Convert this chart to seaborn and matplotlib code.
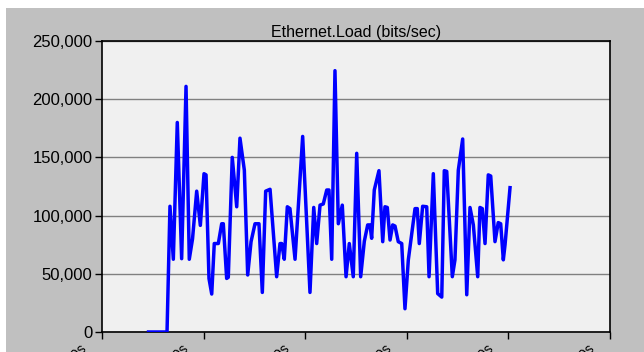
import numpy as np
import pandas as pd
import matplotlib
matplotlib.use("Agg")
import matplotlib.pyplot as plt
import matplotlib.ticker as mticker
import matplotlib.transforms as mtransforms
from matplotlib.patches import Rectangle
import seaborn as sns

# 采样时间（分钟）与负载（bits/sec）
time_min = [0.458, 0.640, 0.669, 0.702, 0.741, 0.784, 0.827, 0.859, 0.891, 0.932,
            0.968, 1.004, 1.024, 1.053, 1.080, 1.105, 1.145, 1.178, 1.194, 1.227,
            1.243, 1.282, 1.326, 1.358, 1.401, 1.434, 1.467, 1.506, 1.545, 1.578,
            1.611, 1.654, 1.719, 1.752, 1.769, 1.794, 1.824, 1.850, 1.900, 1.975,
            2.047, 2.084, 2.113, 2.146, 2.178, 2.212, 2.234, 2.261, 2.293, 2.326,
            2.365, 2.402, 2.434, 2.473, 2.507, 2.546, 2.582, 2.615, 2.638, 2.654,
            2.680, 2.726, 2.763, 2.785, 2.808, 2.835, 2.861, 2.884, 2.916, 2.950,
            2.982, 3.015, 3.081, 3.103, 3.123, 3.156, 3.196, 3.219, 3.261, 3.304,
            3.344, 3.369, 3.393, 3.448, 3.474, 3.507, 3.550, 3.590, 3.622, 3.655,
            3.698, 3.720, 3.743, 3.770, 3.802, 3.826, 3.868, 3.900, 3.924, 3.950,
            3.967, 4.016]
load_bps = [0, 0, 108000, 62500, 180000, 63000, 211000, 62500, 80000, 121000,
            91600, 136000, 135000, 46000, 32600, 76000, 76000, 93000, 93000, 46000,
            47000, 150000, 107600, 166500, 139000, 49000, 77600, 93000, 93000, 34000,
            121000, 122600, 47500, 76000, 76000, 62500, 107600, 106000, 62500, 168000,
            34000, 107000, 76000, 109000, 110000, 122000, 122000, 62500, 224500, 93000,
            109000, 47500, 76000, 47500, 153500, 47500, 78000, 92000, 92000, 80500,
            122000, 138600, 77600, 107600, 107000, 79000, 92000, 91000, 77600, 76000,
            20000, 62000, 106000, 106000, 76000, 108000, 107600, 47500, 136000, 33000,
            30000, 138600, 138000, 47500, 62000, 139000, 165800, 32000, 107000, 92000,
            47500, 107000, 106000, 76000, 135000, 134000, 77600, 94000, 93000, 62000,
            75000, 124000]

x_ticks = [0, 1, 2, 3, 4, 5]
x_labels = ["0m 00s", "1m 00s", "2m 00s", "3m 00s", "4m 00s", "5m 00s"]
y_ticks = [0, 50000, 100000, 150000, 200000, 250000]

df = pd.DataFrame({"time": time_min, "load": load_bps})

plt.rcParams["font.family"] = ["Liberation Sans", "DejaVu Sans"]

fig = plt.figure(figsize=(6.44, 3.52), dpi=100)
fig.patch.set_facecolor("#C0C0C0")
# 左侧与顶部的白边
fig.patches.append(Rectangle((0, 0), 6 / 644, 1, transform=fig.transFigure,
                             facecolor="white", edgecolor="none", zorder=-1))
fig.patches.append(Rectangle((0, 1 - 8 / 352), 1, 8 / 352, transform=fig.transFigure,
                             facecolor="white", edgecolor="none", zorder=-1))

ax = fig.add_axes([102 / 644, 20 / 352, 508 / 644, 291 / 352])
ax.set_facecolor("#F0F0F0")

sns.lineplot(data=df, x="time", y="load", sort=False, estimator=None,
             color="#0000FF", linewidth=2.5, ax=ax, zorder=3)

ax.set_xlim(0, 5)
ax.set_ylim(0, 250000)
ax.set_xticks(x_ticks)
ax.set_xticklabels(x_labels, rotation=45, ha="right", va="top", fontsize=10)
ax.set_yticks(y_ticks)
ax.yaxis.set_major_formatter(mticker.FuncFormatter(lambda v, p: f"{v:,.0f}"))
ax.tick_params(axis="y", labelsize=12, length=5, width=1, direction="out", pad=2)
ax.tick_params(axis="x", length=5, width=1, direction="out", pad=2)

# 刻度标签向左平移，只露出顶部（与原图一致）
shift = mtransforms.ScaledTranslation(-9 / 72, 0, fig.dpi_scale_trans)
for lab in ax.get_xticklabels():
    lab.set_transform(lab.get_transform() + shift)

ax.grid(axis="y", color="#808080", linewidth=1)
ax.grid(axis="x", visible=False)
ax.set_axisbelow(True)
for s in ax.spines.values():
    s.set_color("black")
    s.set_linewidth(1.2)

ax.set_xlabel("")
ax.set_ylabel("")
ax.set_title("Ethernet.Load (bits/sec)", fontsize=11.5, pad=3)

fig.savefig("out.png", dpi=100, facecolor=fig.get_facecolor())
